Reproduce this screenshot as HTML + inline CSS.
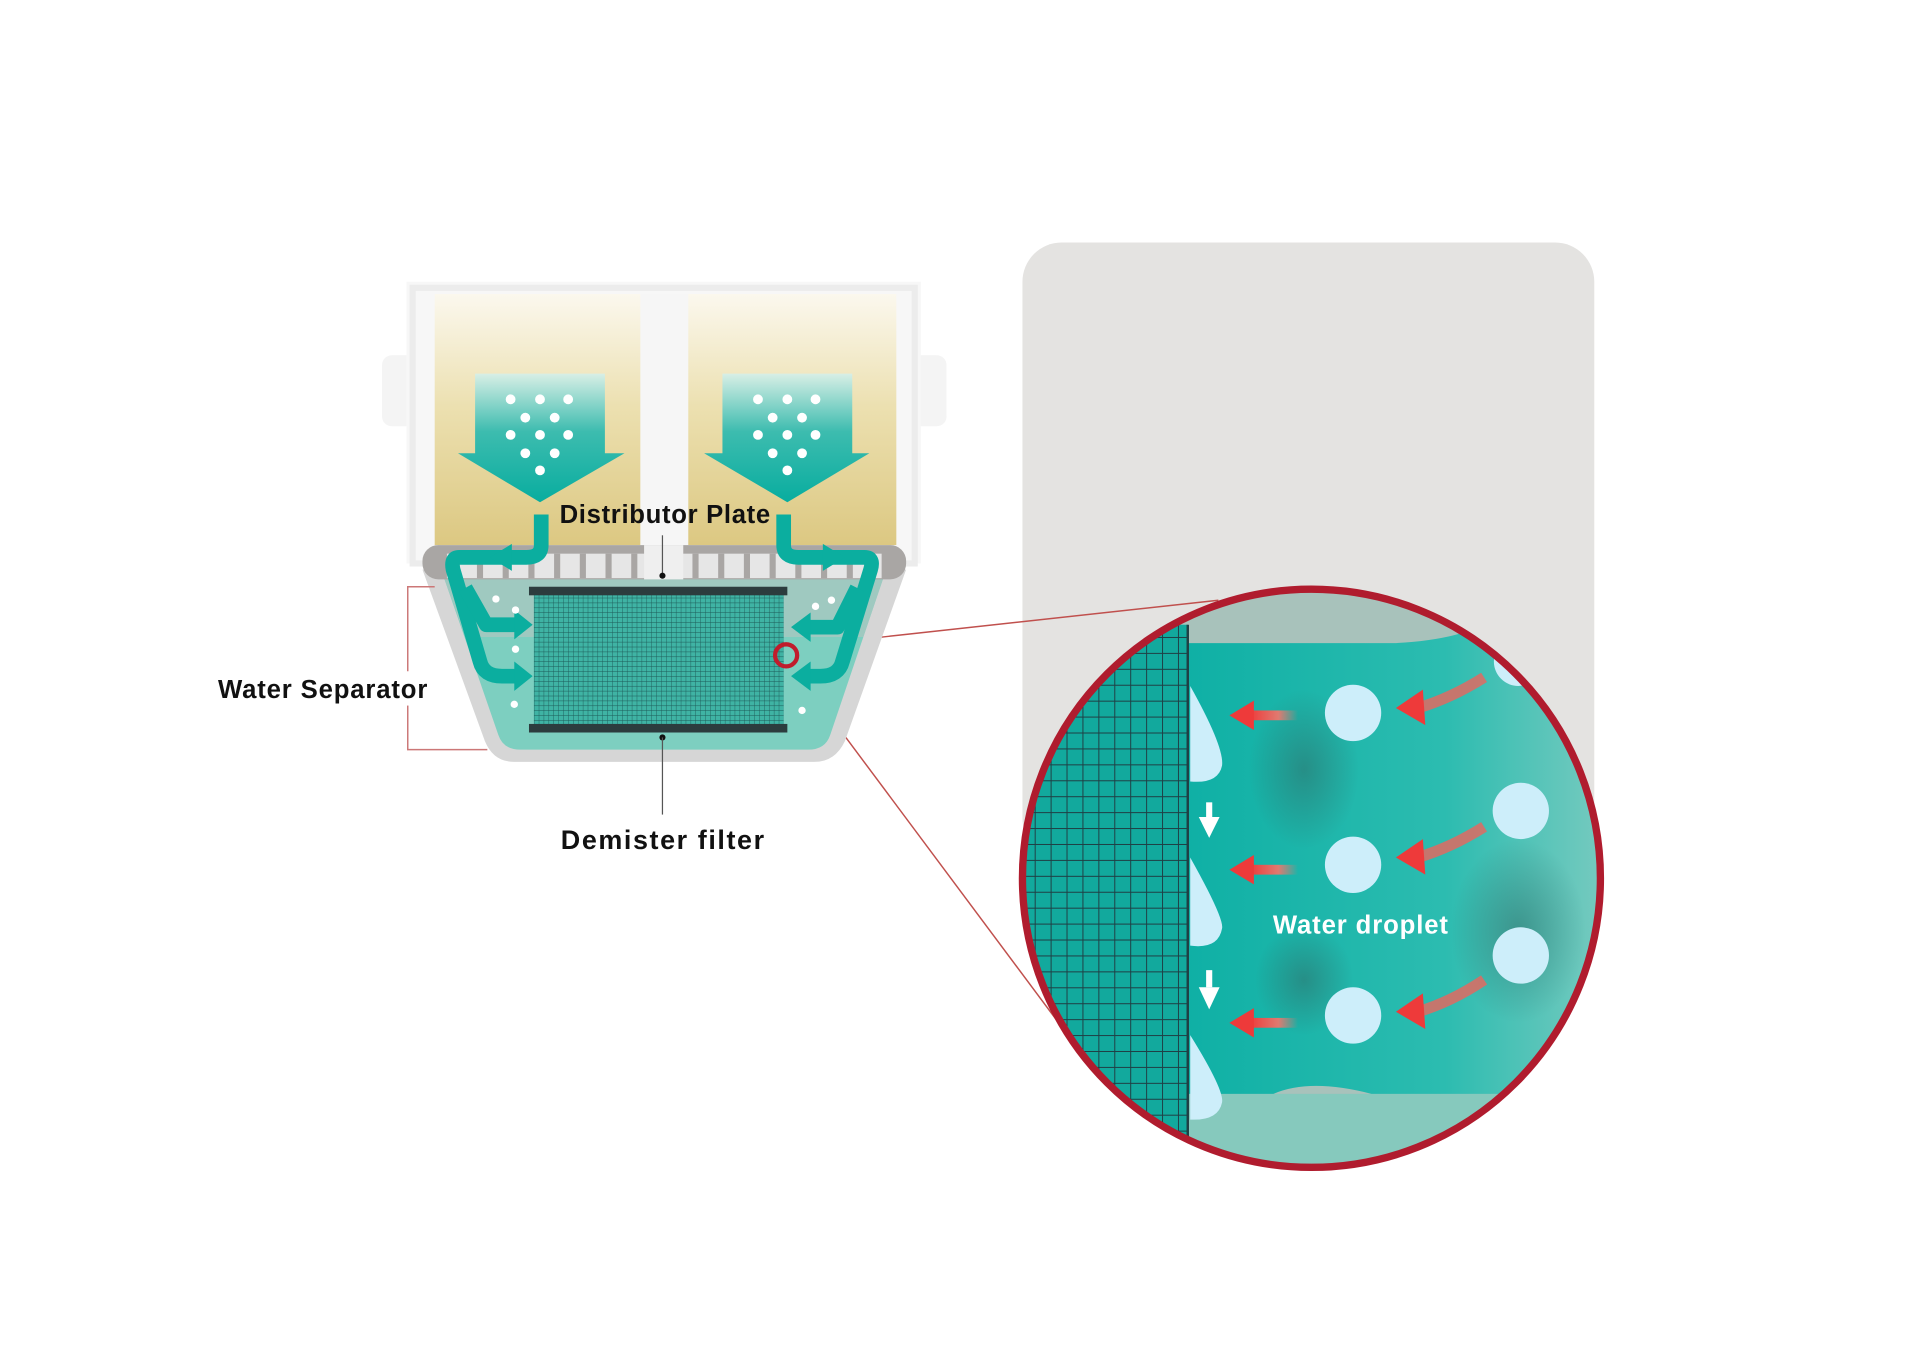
<!DOCTYPE html>
<html><head><meta charset="utf-8"><style>html,body{margin:0;padding:0;background:#fff}svg{display:block}</style></head><body>
<svg width="1920" height="1356" viewBox="0 0 1568 1107" preserveAspectRatio="none" xmlns="http://www.w3.org/2000/svg" font-family="Liberation Sans, Arial, sans-serif">
<defs>
<linearGradient id="sand" x1="0" y1="0" x2="0" y2="1"><stop offset="0" stop-color="#fbf8ee"/><stop offset="0.45" stop-color="#ece0b0"/><stop offset="1" stop-color="#dcc882"/></linearGradient>
<linearGradient id="arr" x1="0" y1="0" x2="0" y2="1"><stop offset="0" stop-color="#d8efe6"/><stop offset="0.45" stop-color="#3dbcaf"/><stop offset="1" stop-color="#08ad9f"/></linearGradient>
<linearGradient id="mainT" x1="0" y1="0" x2="1" y2="0"><stop offset="0" stop-color="#0fb0a5"/><stop offset="0.6" stop-color="#2cbcb0"/><stop offset="1" stop-color="#7ccbc0"/></linearGradient>
<linearGradient id="ra" x1="0" y1="0" x2="1" y2="0"><stop offset="0" stop-color="#ee3a3a"/><stop offset="0.6" stop-color="#e07a70"/><stop offset="1" stop-color="#e07a70" stop-opacity="0"/></linearGradient>
<pattern id="grid" width="13" height="13" patternUnits="userSpaceOnUse"><rect width="13" height="13" fill="#12a99d"/><path d="M0 0H13M0 0V13" stroke="#1f3f44" stroke-width="1.6"/></pattern>
<pattern id="fgrid" width="4" height="4" patternUnits="userSpaceOnUse"><rect width="4" height="4" fill="#3fb3a4"/><path d="M0 0H4M0 0V4" stroke="#1d5a58" stroke-width="0.7"/></pattern>
<clipPath id="cc"><circle cx="1071" cy="717" r="236"/></clipPath>
<radialGradient id="sh"><stop offset="0" stop-color="#2e6f6a" stop-opacity="0.55"/><stop offset="1" stop-color="#2e6f6a" stop-opacity="0"/></radialGradient>
</defs>
<rect width="1568" height="1107" fill="#fff"/>
<!-- gray panel -->
<rect x="835" y="198" width="467" height="502" rx="32" fill="#e4e3e1"/>
<!-- connector lines -->
<line x1="648" y1="528" x2="995" y2="490" stroke="#c0504d" stroke-width="1.2"/>
<line x1="646" y1="542" x2="872" y2="845" stroke="#c0504d" stroke-width="1.2"/>
<!-- device housing -->
<rect x="312" y="290" width="40" height="58" rx="8" fill="#f4f4f4"/>
<rect x="735" y="290" width="38" height="58" rx="8" fill="#f4f4f4"/>
<rect x="332" y="230" width="420" height="230" fill="#f7f7f7"/>
<rect x="337" y="235" width="410" height="225" fill="none" stroke="#ececec" stroke-width="5"/>
<rect x="355" y="240" width="168" height="205" fill="url(#sand)"/>
<rect x="562" y="240" width="170" height="205" fill="url(#sand)"/>
<rect x="523" y="240" width="39" height="205" fill="#f6f6f6"/>
<!-- bowl -->
<path d="M345 465 H740 L690 605 Q682 622 665 622 H420 Q403 622 396 605 Z" fill="#d6d6d6"/>
<path d="M362 470 H722 L678 600 Q674 612 660 612 H425 Q411 612 407 600 Z" fill="#7dcfc0"/>
<path d="M362 470 H722 L705 520 H380 Z" fill="#9fc9c0"/>
<!-- distributor rim -->
<rect x="345" y="445" width="395" height="28" rx="13" fill="#a9a6a4"/>
<rect x="365" y="452" width="355" height="20" fill="#e6e6e6"/>
<g stroke="#a9a6a4" stroke-width="5">
<line x1="392" y1="452" x2="392" y2="472"/><line x1="413" y1="452" x2="413" y2="472"/><line x1="434" y1="452" x2="434" y2="472"/><line x1="455" y1="452" x2="455" y2="472"/><line x1="476" y1="452" x2="476" y2="472"/><line x1="497" y1="452" x2="497" y2="472"/><line x1="518" y1="452" x2="518" y2="472"/>
<line x1="568" y1="452" x2="568" y2="472"/><line x1="589" y1="452" x2="589" y2="472"/><line x1="610" y1="452" x2="610" y2="472"/><line x1="631" y1="452" x2="631" y2="472"/><line x1="652" y1="452" x2="652" y2="472"/><line x1="673" y1="452" x2="673" y2="472"/><line x1="694" y1="452" x2="694" y2="472"/>
</g>
<rect x="526" y="445" width="32" height="28" fill="#efefef"/>
<!-- filter -->
<rect x="436" y="484" width="204" height="110" fill="url(#fgrid)"/>
<rect x="432" y="479" width="211" height="7" fill="#2c3c3e"/>
<rect x="432" y="591" width="211" height="7" fill="#2c3c3e"/>
<!-- flow paths -->
<g fill="none" stroke="#0bae9f" stroke-width="12" stroke-linejoin="round">
<path d="M442 420 V445 Q442 455 430 455 H375 Q368 455 370 465 L392 540 Q395 552 410 552 H425"/>
<path d="M380 480 L397 510 H425"/>
<path d="M640 420 V445 Q640 455 652 455 H706 Q714 455 711 465 L688 540 Q685 552 670 552 H655"/>
<path d="M700 480 L684 512 H655"/>
</g>
<g fill="#0bae9f">
<polygon points="400,455 418,444 418,466"/><polygon points="435,510 420,498 420,522"/><polygon points="435,552 420,540 420,564"/>
<polygon points="690,455 672,444 672,466"/><polygon points="646,512 662,500 662,524"/><polygon points="646,552 662,540 662,564"/>
</g>
<g fill="#fff"><circle cx="405" cy="489" r="3"/><circle cx="421" cy="498" r="3"/><circle cx="421" cy="530" r="3"/><circle cx="420" cy="575" r="3"/><circle cx="666" cy="495" r="3"/><circle cx="679" cy="490" r="3"/><circle cx="655" cy="580" r="3"/></g>
<!-- big arrows -->
<g fill="url(#arr)">
<polygon points="388,305 494,305 494,370 510,370 441,410 374,370 388,370"/>
<polygon points="590,305 696,305 696,370 710,370 643,410 575,370 590,370"/>
</g>
<g fill="#fff">
<circle cx="417" cy="326" r="4"/><circle cx="441" cy="326" r="4"/><circle cx="464" cy="326" r="4"/><circle cx="429" cy="341" r="4"/><circle cx="453" cy="341" r="4"/><circle cx="417" cy="355" r="4"/><circle cx="441" cy="355" r="4"/><circle cx="464" cy="355" r="4"/><circle cx="429" cy="370" r="4"/><circle cx="453" cy="370" r="4"/><circle cx="441" cy="384" r="4"/>
<circle cx="619" cy="326" r="4"/><circle cx="643" cy="326" r="4"/><circle cx="666" cy="326" r="4"/><circle cx="631" cy="341" r="4"/><circle cx="655" cy="341" r="4"/><circle cx="619" cy="355" r="4"/><circle cx="643" cy="355" r="4"/><circle cx="666" cy="355" r="4"/><circle cx="631" cy="370" r="4"/><circle cx="655" cy="370" r="4"/><circle cx="643" cy="384" r="4"/>
</g>
<!-- labels device -->
<text x="543" y="427" font-size="21" font-weight="bold" text-anchor="middle" fill="#111" textLength="172">Distributor Plate</text>
<line x1="541" y1="437" x2="541" y2="470" stroke="#555" stroke-width="1"/>
<circle cx="541" cy="470" r="2.5" fill="#111"/>
<circle cx="541" cy="602" r="2.5" fill="#111"/>
<line x1="541" y1="602" x2="541" y2="665" stroke="#555" stroke-width="1"/>
<text x="541" y="693" font-size="22" font-weight="bold" text-anchor="middle" fill="#111" textLength="166">Demister filter</text>
<path d="M355 479 H333 V612 H398" fill="none" stroke="#c77" stroke-width="1.2"/>
<rect x="175" y="548" width="180" height="28" fill="#fff"/>
<text x="178" y="570" font-size="21" font-weight="bold" fill="#111" textLength="171">Water Separator</text>
<circle cx="642" cy="535" r="9" fill="none" stroke="#c01c2c" stroke-width="3.5"/>
<!-- zoom circle -->
<g clip-path="url(#cc)">
<rect x="830" y="470" width="490" height="500" fill="#a8c2bb"/>
<rect x="830" y="893" width="490" height="80" fill="#86c9bd"/>
<path d="M970 525 H1140 Q1200 522 1230 500 L1320 500 V893 H1120 Q1070 880 1040 893 H970 Z" fill="url(#mainT)"/>
<ellipse cx="1065" cy="628" rx="45" ry="65" fill="url(#sh)"/>
<ellipse cx="1065" cy="800" rx="40" ry="45" fill="url(#sh)"/>
<ellipse cx="1240" cy="760" rx="55" ry="75" fill="url(#sh)"/>
<rect x="830" y="510" width="140" height="460" fill="url(#grid)"/>
<line x1="970" y1="510" x2="970" y2="970" stroke="#1f3f44" stroke-width="2"/>
<g fill="#cdeefa">
<path d="M972 560 Q1000 610 998 625 Q995 640 972 638 Z"/>
<path d="M972 700 Q1000 750 998 758 Q995 775 972 772 Z"/>
<path d="M972 845 Q1000 890 998 900 Q995 915 972 914 Z"/>
<circle cx="1105" cy="582" r="23"/><circle cx="1105" cy="706" r="23"/><circle cx="1105" cy="829" r="23"/>
<circle cx="1242" cy="662" r="23"/><circle cx="1242" cy="780" r="23"/><circle cx="1240" cy="540" r="20"/>
</g>
<g fill="#fff">
<rect x="985" y="655" width="5" height="14"/><polygon points="979,667 996,667 987.5,684"/>
<rect x="985" y="792" width="5" height="14"/><polygon points="979,806 996,806 987.5,824"/>
</g>
<g>
<rect x="1020" y="580" width="40" height="8" fill="url(#ra)"/><polygon points="1004,584 1024,572 1024,596" fill="#ee3a3a"/>
<rect x="1020" y="706" width="40" height="8" fill="url(#ra)"/><polygon points="1004,710 1024,698 1024,722" fill="#ee3a3a"/>
<rect x="1020" y="831" width="40" height="8" fill="url(#ra)"/><polygon points="1004,835 1024,823 1024,847" fill="#ee3a3a"/>
<path d="M1158 578 Q1185 570 1212 553" fill="none" stroke="#e06a62" stroke-width="9" stroke-opacity="0.85"/><polygon points="1140,578 1162,563 1164,592" fill="#ee3a3a"/>
<path d="M1158 700 Q1185 692 1212 675" fill="none" stroke="#e06a62" stroke-width="9" stroke-opacity="0.85"/><polygon points="1140,700 1162,685 1164,714" fill="#ee3a3a"/>
<path d="M1158 826 Q1185 818 1212 800" fill="none" stroke="#e06a62" stroke-width="9" stroke-opacity="0.85"/><polygon points="1140,826 1162,811 1164,840" fill="#ee3a3a"/>
</g>
<text x="1111" y="762" font-size="21" font-weight="bold" text-anchor="middle" fill="#fff" textLength="143">Water droplet</text>
</g>
<circle cx="1071" cy="717" r="236" fill="none" stroke="#b01c2e" stroke-width="6"/>
</svg>
</body></html>
